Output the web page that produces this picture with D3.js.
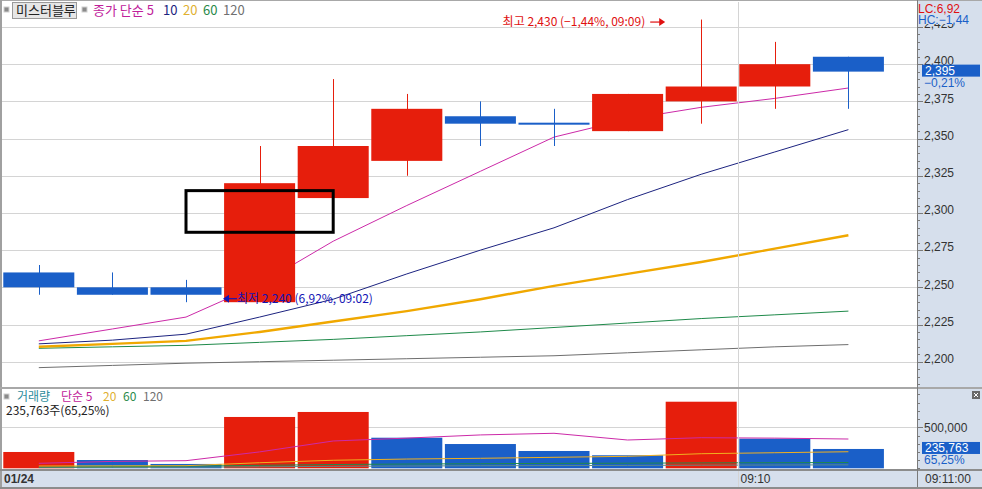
<!DOCTYPE html>
<html>
<head>
<meta charset="utf-8">
<script src="https://cdn.jsdelivr.net/npm/d3@7"></script>
<style>
  html, body { margin: 0; padding: 0; background: #fff; }
  svg { display: block; }
  .num { font-family: "Liberation Sans", Arial, sans-serif; }
  .kr { font-family: "Noto Sans CJK KR", "Noto Sans", sans-serif; }
</style>
</head>
<body>
<svg id="chart" width="982" height="489"></svg>
<script>
// 1-minute candles, 01/24 session
const times  = ["09:00","09:01","09:02","09:03","09:04","09:05","09:06","09:07","09:08","09:09","09:10","09:11"];
const open   = [2260, 2250, 2250, 2240, 2310, 2335, 2365, 2360, 2355, 2375, 2385, 2405];
const high   = [2265, 2260, 2255, 2345, 2390, 2380, 2375, 2370, 2380, 2430, 2415, 2405];
const low    = [2245, 2245, 2240, 2240, 2310, 2325, 2345, 2345, 2355, 2360, 2370, 2370];
const close  = [2250, 2245, 2245, 2320, 2345, 2370, 2360, 2360, 2380, 2385, 2400, 2395];
const volume = [199000, 101000, 53000, 626000, 687000, 373000, 296000, 211000, 159000, 812000, 361330, 235763];

// closing-price simple moving averages
const ma5   = [2214, 2222, 2230, 2252, 2281, 2305, 2328, 2351, 2363, 2371, 2377, 2384];
const ma10  = [2212, 2214.5, 2218.5, 2230, 2242, 2259, 2275, 2290, 2309, 2326, 2341, 2356];
const ma20  = [2210, 2212, 2214, 2220, 2227, 2234, 2242, 2251, 2259, 2267, 2276, 2285];
const ma60  = [2209, 2210, 2211, 2213, 2215, 2217.5, 2220, 2223, 2226, 2229, 2231.5, 2234];
const ma120 = [2196, 2197.5, 2199, 2200, 2201, 2202, 2203, 2204, 2206, 2208, 2210, 2211.5];

// volume simple moving averages
const vma5   = [61000, 84000, 93000, 200000, 333000, 368000, 407000, 427000, 345000, 373000, 368000, 357000];
const vma20  = [28000, 30000, 32000, 68000, 98000, 113000, 122000, 134000, 146000, 178000, 190000, 202000];
const vma60  = [16000, 20000, 26000, 36000, 46000, 52000, 56000, 60000, 62000, 66000, 68000, 70000];
const vma120 = [8000, 10000, 13000, 18000, 24000, 28000, 31000, 33000, 35000, 38000, 40000, 42000];

const priceTicks = [2200, 2225, 2250, 2275, 2300, 2325, 2350, 2375, 2400, 2425];
const volumeTicks = [500000];
const timeLabels = ["09:10"];
const dateLabel = "01/24";
const lastTimeLabel = "09:11:00";

// highlighted range box (time span and price span)
const boxTimes = ["09:02", "09:04"];
const boxPrices = [2287, 2315];

const svg = d3.select("#chart");
const W = 982, H = 489;
const axisX = 917;
const priceTop = 2, priceBottom = 387;
const volTop = 389, volBottom = 469;
const stripTop = 470, stripBottom = 487;

const RED = "#e61e0c", BLUE = "#1a5fc8";
const GRID = "#d4d4d4", PANEL = "#d6dfec";
const fmt = d3.format(",");
const krNum = v => fmt(v);

const x = d3.scaleBand().domain(times).range([2, 885.2]).paddingInner(0.035).paddingOuter(0.0175);
const xc = t => x(t) + x.bandwidth() / 2;
const y = d3.scaleLinear().domain([2200, 2425]).range([361.7, 27]);
const yv = d3.scaleLinear().domain([0, 500000]).range([468.3, 427.3]);

// backgrounds
svg.append("rect").attr("x", 0).attr("y", 0).attr("width", W).attr("height", H).attr("fill", "#fff");
svg.append("rect").attr("x", axisX).attr("y", 0).attr("width", W - axisX).attr("height", H).attr("fill", PANEL);
svg.append("rect").attr("x", 0).attr("y", stripTop).attr("width", W).attr("height", stripBottom - stripTop).attr("fill", PANEL);

const defs = svg.append("defs");
defs.append("clipPath").attr("id", "pclip").append("rect")
  .attr("x", 2).attr("y", priceTop).attr("width", axisX - 2).attr("height", priceBottom - priceTop);
defs.append("clipPath").attr("id", "vclip").append("rect")
  .attr("x", 2).attr("y", volTop).attr("width", axisX - 2).attr("height", volBottom - volTop);
defs.append("clipPath").attr("id", "lclip").append("rect")
  .attr("x", axisX).attr("y", 24).attr("width", W - axisX).attr("height", priceBottom - 24);

// grid lines
const pg = svg.append("g").attr("clip-path", "url(#pclip)");
pg.selectAll("line.h").data(priceTicks).join("line")
  .attr("x1", 2).attr("x2", axisX).attr("y1", d => Math.round(y(d)) + 0.5).attr("y2", d => Math.round(y(d)) + 0.5)
  .attr("stroke", GRID).attr("stroke-width", 1);
const vg = svg.append("g").attr("clip-path", "url(#vclip)");
vg.selectAll("line.h").data(volumeTicks).join("line")
  .attr("x1", 2).attr("x2", axisX).attr("y1", d => Math.round(yv(d)) + 0.5).attr("y2", d => Math.round(yv(d)) + 0.5)
  .attr("stroke", GRID).attr("stroke-width", 1);

const boundary = t => Math.round(x(t) - x.step() * x.paddingInner() / 2) + 0.5;
svg.selectAll("line.vt").data(timeLabels).join("line")
  .attr("x1", boundary).attr("x2", boundary).attr("y1", priceTop).attr("y2", stripBottom)
  .attr("stroke", GRID).attr("stroke-width", 1);

// moving averages on price
const idx = d3.range(times.length);
const priceLine = arr => d3.line().x(i => xc(times[i])).y(i => y(arr[i]))(idx);
const maSpecs = [
  { arr: ma120, color: "#6e6e6e", w: 1 },
  { arr: ma60, color: "#1f8a4a", w: 1 },
  { arr: ma20, color: "#f0a800", w: 2.4 },
  { arr: ma10, color: "#1c2380", w: 1 },
  { arr: ma5, color: "#cc2aa8", w: 1 }
];
pg.selectAll("path.ma").data(maSpecs).join("path")
  .attr("d", d => priceLine(d.arr)).attr("fill", "none")
  .attr("stroke", d => d.color).attr("stroke-width", d => d.w);

// candles
const candles = pg.selectAll("g.c").data(idx).join("g");
const cColor = i => close[i] > open[i] ? RED : BLUE;
candles.append("line")
  .attr("x1", i => Math.round(xc(times[i])) + 0.5).attr("x2", i => Math.round(xc(times[i])) + 0.5)
  .attr("y1", i => y(high[i])).attr("y2", i => y(low[i]))
  .attr("stroke", cColor).attr("stroke-width", 1);
candles.append("rect")
  .attr("x", i => x(times[i])).attr("width", x.bandwidth())
  .attr("y", i => y(Math.max(open[i], close[i])) - (open[i] === close[i] ? 1 : 0))
  .attr("height", i => Math.max(2, Math.abs(y(open[i]) - y(close[i]))))
  .attr("fill", cColor);

// range box
pg.append("rect")
  .attr("x", xc(boxTimes[0])).attr("width", xc(boxTimes[1]) - xc(boxTimes[0]))
  .attr("y", y(boxPrices[1])).attr("height", y(boxPrices[0]) - y(boxPrices[1]))
  .attr("fill", "none").attr("stroke", "#000").attr("stroke-width", 3);

// high / low annotations
const hiI = d3.maxIndex(high), loI = d3.minIndex(low);
const lastClose = close[close.length - 1];
const pct = v => d3.format(".2f")(v).replace(".", ",");
const hiPct = (lastClose - high[hiI]) / high[hiI] * 100;
const loPct = (lastClose - low[loI]) / low[loI] * 100;

const hiY = y(high[hiI]) + 2.5;
const hiArrowEnd = xc(times[hiI]) - 36;
pg.append("line").attr("x1", hiArrowEnd - 15).attr("x2", hiArrowEnd - 4).attr("y1", hiY).attr("y2", hiY)
  .attr("stroke", "#e01010").attr("stroke-width", 1.2);
pg.append("path").attr("d", `M${hiArrowEnd},${hiY} l-6,-4 v8 z`).attr("fill", "#e01010");
pg.append("text").attr("class", "kr").attr("x", hiArrowEnd - 20).attr("y", hiY).attr("dy", "0.36em")
  .attr("text-anchor", "end").attr("font-size", 12).attr("fill", "#e01010")
  .text(`최고 ${krNum(high[hiI])} (${pct(hiPct)}%, ${times[hiI]})`);

const loY = y(low[loI]) - 3.5;
const loArrowTip = x(times[loI]) + x.bandwidth() + 1.5;
pg.append("path").attr("d", `M${loArrowTip},${loY} l6,-4 v8 z`).attr("fill", "#1414b4");
pg.append("line").attr("x1", loArrowTip + 4).attr("x2", loArrowTip + 14).attr("y1", loY).attr("y2", loY)
  .attr("stroke", "#1414b4").attr("stroke-width", 1.2);
pg.append("text").attr("class", "kr").attr("x", loArrowTip + 14).attr("y", loY).attr("dy", "0.36em")
  .attr("font-size", 12).attr("fill", "#1414b4")
  .text(`최저 ${krNum(low[loI])} (${pct(loPct)}%, ${times[loI]})`);

// volume bars: red when volume rises against the previous bar
const vColor = i => (i === 0 || volume[i] > volume[i - 1]) ? RED : BLUE;
vg.selectAll("rect.v").data(idx).join("rect")
  .attr("x", i => x(times[i])).attr("width", x.bandwidth())
  .attr("y", i => yv(volume[i])).attr("height", i => yv(0) - yv(volume[i]))
  .attr("fill", vColor);
const volLine = arr => d3.line().x(i => xc(times[i])).y(i => yv(arr[i]))(idx);
const vmaSpecs = [
  { arr: vma120, color: "#5a8a8a" },
  { arr: vma60, color: "#1f8a4a" },
  { arr: vma20, color: "#f0b020" },
  { arr: vma5, color: "#cc2aa8" }
];
vg.selectAll("path.vma").data(vmaSpecs).join("path")
  .attr("d", d => volLine(d.arr)).attr("fill", "none")
  .attr("stroke", d => d.color).attr("stroke-width", 1);

// frame lines
svg.append("line").attr("x1", 0).attr("x2", W).attr("y1", 0.5).attr("y2", 0.5).attr("stroke", "#a8a8a8");
svg.append("rect").attr("x", 0).attr("y", 0).attr("width", 2).attr("height", H).attr("fill", "#a0a0a0");
svg.append("rect").attr("x", 0).attr("y", priceBottom).attr("width", W).attr("height", 2).attr("fill", "#a8a8a8");
svg.append("rect").attr("x", 0).attr("y", stripTop - 1).attr("width", W).attr("height", 2).attr("fill", "#8c8c8c");
svg.append("rect").attr("x", 0).attr("y", stripBottom).attr("width", W).attr("height", 2).attr("fill", "#8c8c8c");
svg.append("line").attr("x1", axisX + 0.5).attr("x2", axisX + 0.5).attr("y1", 0).attr("y2", stripBottom)
  .attr("stroke", "#7a7a7a");

// price axis
const minor = d3.range(2185, 2431, 5);
const axG = svg.append("g").attr("clip-path", "url(#lclip)");
axG.selectAll("line.mn").data(minor).join("line")
  .attr("x1", axisX).attr("x2", axisX + 3).attr("y1", d => Math.round(y(d)) + 0.5).attr("y2", d => Math.round(y(d)) + 0.5)
  .attr("stroke", "#7a7a7a");
axG.selectAll("line.mj").data(priceTicks).join("line")
  .attr("x1", axisX).attr("x2", axisX + 6).attr("y1", d => Math.round(y(d)) + 0.5).attr("y2", d => Math.round(y(d)) + 0.5)
  .attr("stroke", "#7a7a7a");
axG.selectAll("text").data(priceTicks).join("text").attr("class", "num")
  .attr("x", axisX + 7).attr("y", d => y(d) - 3).attr("dy", "0.35em")
  .attr("font-size", 12).attr("fill", "#333").text(fmt);

// current price tag
const yLast = y(lastClose);
svg.append("rect").attr("x", axisX + 5).attr("y", yLast - 7).attr("width", 58).attr("height", 12).attr("fill", BLUE);
svg.append("text").attr("class", "num").attr("x", axisX + 8).attr("y", yLast - 1).attr("dy", "0.35em")
  .attr("font-size", 12).attr("fill", "#fff").text(fmt(lastClose));
svg.append("text").attr("class", "num").attr("x", axisX + 7).attr("y", yLast + 11).attr("dy", "0.35em")
  .attr("font-size", 12).attr("fill", BLUE).text(`${pct((lastClose - close[close.length - 2]) / close[close.length - 2] * 100)}%`);

// LC / HC readout
svg.append("text").attr("class", "num").attr("x", axisX + 1).attr("y", 9).attr("dy", "0.35em")
  .attr("font-size", 12).attr("fill", "#e01010").text(`LC:${pct(loPct)}`);
svg.append("text").attr("class", "num").attr("x", axisX + 1).attr("y", 20).attr("dy", "0.35em")
  .attr("font-size", 12).attr("fill", BLUE).text(`HC:${pct(hiPct)}`);

// volume axis
const vMinor = d3.range(0, 900001, 100000);
svg.selectAll("line.vmn").data(vMinor.filter(d => yv(d) > volTop + 2)).join("line")
  .attr("x1", axisX).attr("x2", axisX + 3).attr("y1", d => Math.round(yv(d)) + 0.5).attr("y2", d => Math.round(yv(d)) + 0.5)
  .attr("stroke", "#7a7a7a");
svg.selectAll("line.vmj").data(volumeTicks).join("line")
  .attr("x1", axisX).attr("x2", axisX + 6).attr("y1", d => Math.round(yv(d)) + 0.5).attr("y2", d => Math.round(yv(d)) + 0.5)
  .attr("stroke", "#7a7a7a");
svg.selectAll("text.vt").data(volumeTicks).join("text").attr("class", "num")
  .attr("x", axisX + 7).attr("y", d => yv(d)).attr("dy", "0.35em")
  .attr("font-size", 12).attr("fill", "#333").text(fmt);
const lastVol = volume[volume.length - 1];
const volPct = lastVol / volume[volume.length - 2] * 100;
const yvLast = yv(lastVol);
svg.append("rect").attr("x", axisX + 5).attr("y", yvLast - 7).attr("width", 58).attr("height", 12).attr("fill", BLUE);
svg.append("text").attr("class", "num").attr("x", axisX + 8).attr("y", yvLast - 1).attr("dy", "0.35em")
  .attr("font-size", 12).attr("fill", "#fff").text(fmt(lastVol));
svg.append("text").attr("class", "num").attr("x", axisX + 7).attr("y", yvLast + 11).attr("dy", "0.35em")
  .attr("font-size", 12).attr("fill", BLUE).text(`${pct(volPct)}%`);

// close icon
svg.append("rect").attr("x", 972).attr("y", 391).attr("width", 8).attr("height", 8).attr("fill", "#6a6a6a");
svg.append("path").attr("d", "M974,393 l4,4 M978,393 l-4,4").attr("stroke", "#fff").attr("stroke-width", 1);

// time axis strip
svg.append("text").attr("class", "num").attr("x", 4).attr("y", 479).attr("dy", "0.35em")
  .attr("font-size", 12).attr("font-weight", "bold").attr("fill", "#333").text(dateLabel);
svg.selectAll("text.tl").data(timeLabels).join("text").attr("class", "num")
  .attr("x", t => boundary(t) + 2).attr("y", 479).attr("dy", "0.35em")
  .attr("font-size", 12).attr("fill", "#333").text(t => t);
svg.append("text").attr("class", "num").attr("x", axisX + 8).attr("y", 479).attr("dy", "0.35em")
  .attr("font-size", 12).attr("fill", "#333").text(lastTimeLabel);

// price legend
const mark = (gx, gy) => svg.append("rect").attr("x", gx).attr("y", gy).attr("width", 5).attr("height", 5)
  .attr("fill", "#8a8a8a").attr("stroke", "#d0d0d0").attr("stroke-width", 1);
mark(4, 7);
svg.append("rect").attr("x", 12.5).attr("y", 2.5).attr("width", 64).attr("height", 16)
  .attr("fill", "#e6e6e6").attr("stroke", "#9a9a9a");
svg.append("text").attr("class", "kr").attr("x", 16).attr("y", 10.5).attr("dy", "0.36em")
  .attr("font-size", 13).attr("fill", "#222").text("미스터블루");
mark(82, 7);
const legendItems = [
  { t: "종가 단순 5", c: "#c0209a", x: 93 },
  { t: "10", c: "#1c2380", x: 163 },
  { t: "20", c: "#e0b030", x: 183 },
  { t: "60", c: "#2a8a4a", x: 203 },
  { t: "120", c: "#707070", x: 223 }
];
svg.selectAll("text.lg").data(legendItems).join("text").attr("class", "kr")
  .attr("x", d => d.x).attr("y", 10.5).attr("dy", "0.36em").attr("font-size", 13)
  .attr("fill", d => d.c).text(d => d.t);

// volume legend
mark(4, 394);
const vLegend = [
  { t: "거래량", c: "#2c8c9c", x: 17 },
  { t: "단순 5", c: "#c0209a", x: 61 },
  { t: "20", c: "#e0b030", x: 103 },
  { t: "60", c: "#2a8a4a", x: 123 },
  { t: "120", c: "#707070", x: 143 }
];
svg.selectAll("text.vlg").data(vLegend).join("text").attr("class", "kr")
  .attr("x", d => d.x).attr("y", 397).attr("dy", "0.36em").attr("font-size", 12)
  .attr("fill", d => d.c).text(d => d.t);
svg.append("text").attr("class", "kr").attr("x", 6).attr("y", 410.5).attr("dy", "0.36em")
  .attr("font-size", 12).attr("fill", "#222").text(`${fmt(lastVol)}주(${pct(volPct)}%)`);
</script>
</body>
</html>
